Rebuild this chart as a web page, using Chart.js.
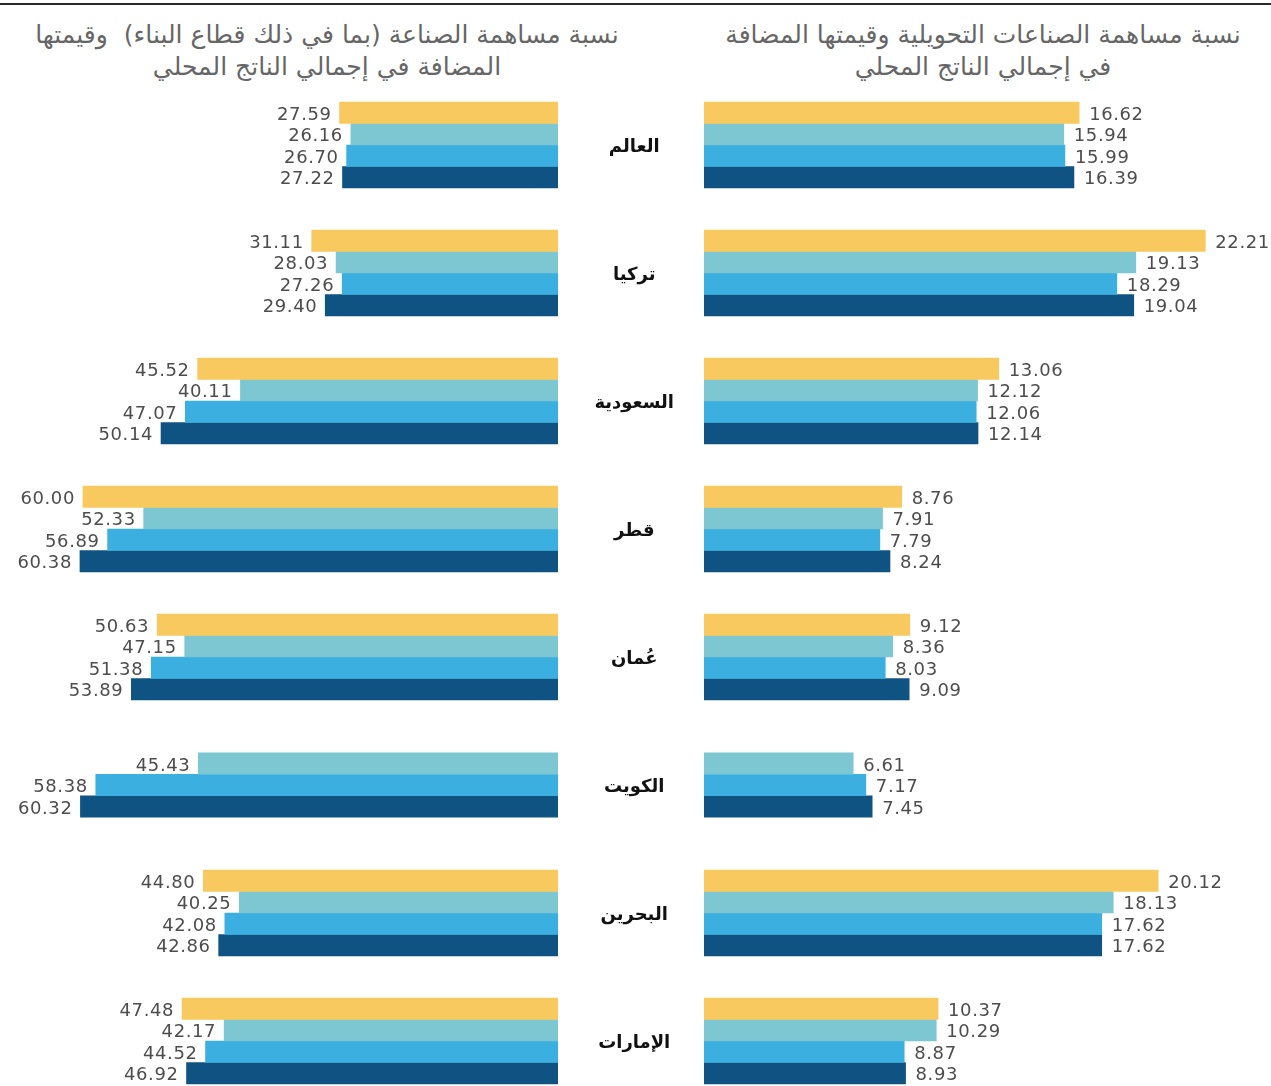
<!DOCTYPE html>
<html lang="ar">
<head>
<meta charset="utf-8">
<script src="https://cdn.jsdelivr.net/npm/chart.js@4/dist/chart.umd.min.js"></script>
<style>
  html, body { margin: 0; padding: 0; background: #fff; overflow: hidden; }
  body { width: 1271px; height: 1086px; position: relative; }
  .rule { position: absolute; left: 0; top: 3px; width: 1271px; height: 2px; background: #2b2b2b; }
  .title {
    position: absolute; top: 19px; direction: rtl; text-align: center;
    font-family: "DejaVu Sans", sans-serif; font-size: 25px; line-height: 32px; color: #666;
    white-space: nowrap;
  }
  #titleLeft { left: 20px; width: 614px; }
  #titleRight { left: 700px; width: 566px; }
  .box { position: absolute; top: 81px; height: 1024px; }
  #boxLeft { left: 0; width: 558px; }
  #boxRight { left: 560px; width: 711px; }
</style>
</head>
<body>
<div class="rule"></div>
<div class="title" id="titleLeft">نسبة مساهمة الصناعة (بما في ذلك قطاع البناء)&nbsp; وقيمتها<br>المضافة في إجمالي الناتج المحلي</div>
<div class="title" id="titleRight">نسبة مساهمة الصناعات التحويلية وقيمتها المضافة<br>في إجمالي الناتج المحلي</div>
<div class="box" id="boxLeft"><canvas id="industryChart"></canvas></div>
<div class="box" id="boxRight"><canvas id="manufChart"></canvas></div>

<script>
var countries = ["العالم", "تركيا", "السعودية", "قطر", "عُمان", "الكويت", "البحرين", "الإمارات"];
var barColors = ["#f7c95e", "#7cc7d1", "#3bafe0", "#0e5381"];

// industry incl. construction, % of GDP (four series, top to bottom)
var industry1 = [27.59, 31.11, 45.52, 60.00, 50.63, null, 44.80, 47.48];
var industry2 = [26.16, 28.03, 40.11, 52.33, 47.15, 45.43, 40.25, 42.17];
var industry3 = [26.70, 27.26, 47.07, 56.89, 51.38, 58.38, 42.08, 44.52];
var industry4 = [27.22, 29.40, 50.14, 60.38, 53.89, 60.32, 42.86, 46.92];

// manufacturing, % of GDP
var manuf1 = [16.62, 22.21, 13.06, 8.76, 9.12, null, 20.12, 10.37];
var manuf2 = [15.94, 19.13, 12.12, 7.91, 8.36, 6.61, 18.13, 10.29];
var manuf3 = [15.99, 18.29, 12.06, 7.79, 8.03, 7.17, 17.62, 8.87];
var manuf4 = [16.39, 19.04, 12.14, 8.24, 9.09, 7.45, 17.62, 8.93];

// writes each bar's value just past its end
var valueLabels = {
  id: "valueLabels",
  afterDatasetsDraw: function(chart, args, opts) {
    var ctx = chart.ctx;
    ctx.save();
    ctx.font = "18px 'DejaVu Sans'";
    ctx.letterSpacing = "0.6px";
    ctx.fillStyle = "#4d4d4d";
    ctx.textBaseline = "middle";
    chart.data.datasets.forEach(function(ds, i) {
      var meta = chart.getDatasetMeta(i);
      meta.data.forEach(function(bar, j) {
        var v = ds.data[j];
        if (v === null || v === undefined) return;
        if (opts.side === "left") {
          ctx.textAlign = "right";
          ctx.fillText(v.toFixed(2), bar.x - 8, bar.y + 2.5);
        } else {
          ctx.textAlign = "left";
          ctx.fillText(v.toFixed(2), bar.x + 10, bar.y + 2.5);
        }
      });
    });
    ctx.restore();
  }
};

function makeSets(a, b, c, d) {
  return [a, b, c, d].map(function(vals, i) {
    return {
      label: "s" + (i + 1),
      data: vals,
      backgroundColor: barColors[i],
      barThickness: 21.5,
      skipNull: true
    };
  });
}

Chart.defaults.animation = false;
Chart.defaults.responsive = true;
Chart.defaults.maintainAspectRatio = false;

new Chart("industryChart", {
  type: "bar",
  data: { labels: countries, datasets: makeSets(industry1, industry2, industry3, industry4) },
  options: {
    indexAxis: "y",
    layout: { padding: 0 },
    plugins: { legend: { display: false }, tooltip: { enabled: false }, valueLabels: { side: "left" } },
    scales: {
      x: { display: false, reverse: true, min: 0, max: 70.48 },
      y: { display: false }
    }
  },
  plugins: [valueLabels]
});

new Chart("manufChart", {
  type: "bar",
  data: { labels: countries, datasets: makeSets(manuf1, manuf2, manuf3, manuf4) },
  options: {
    indexAxis: "y",
    layout: { padding: 0 },
    plugins: { legend: { display: false }, tooltip: { enabled: false }, valueLabels: { side: "right" } },
    scales: {
      x: { display: false, min: 0, max: 25.12 },
      y: {
        border: { display: false },
        grid: { display: false, drawTicks: false },
        ticks: {
          crossAlign: "center",
          padding: 30,
          labelOffset: 2,
          color: "#111",
          font: { family: "DejaVu Sans", size: 18, weight: "bold" }
        },
        // fixed gutter for the country names, no extra top/bottom room
        afterFit: function(axis) {
          axis.width = 144;
          axis.paddingTop = 0;
          axis.paddingBottom = 0;
        }
      }
    }
  },
  plugins: [valueLabels]
});
</script>
</body>
</html>
